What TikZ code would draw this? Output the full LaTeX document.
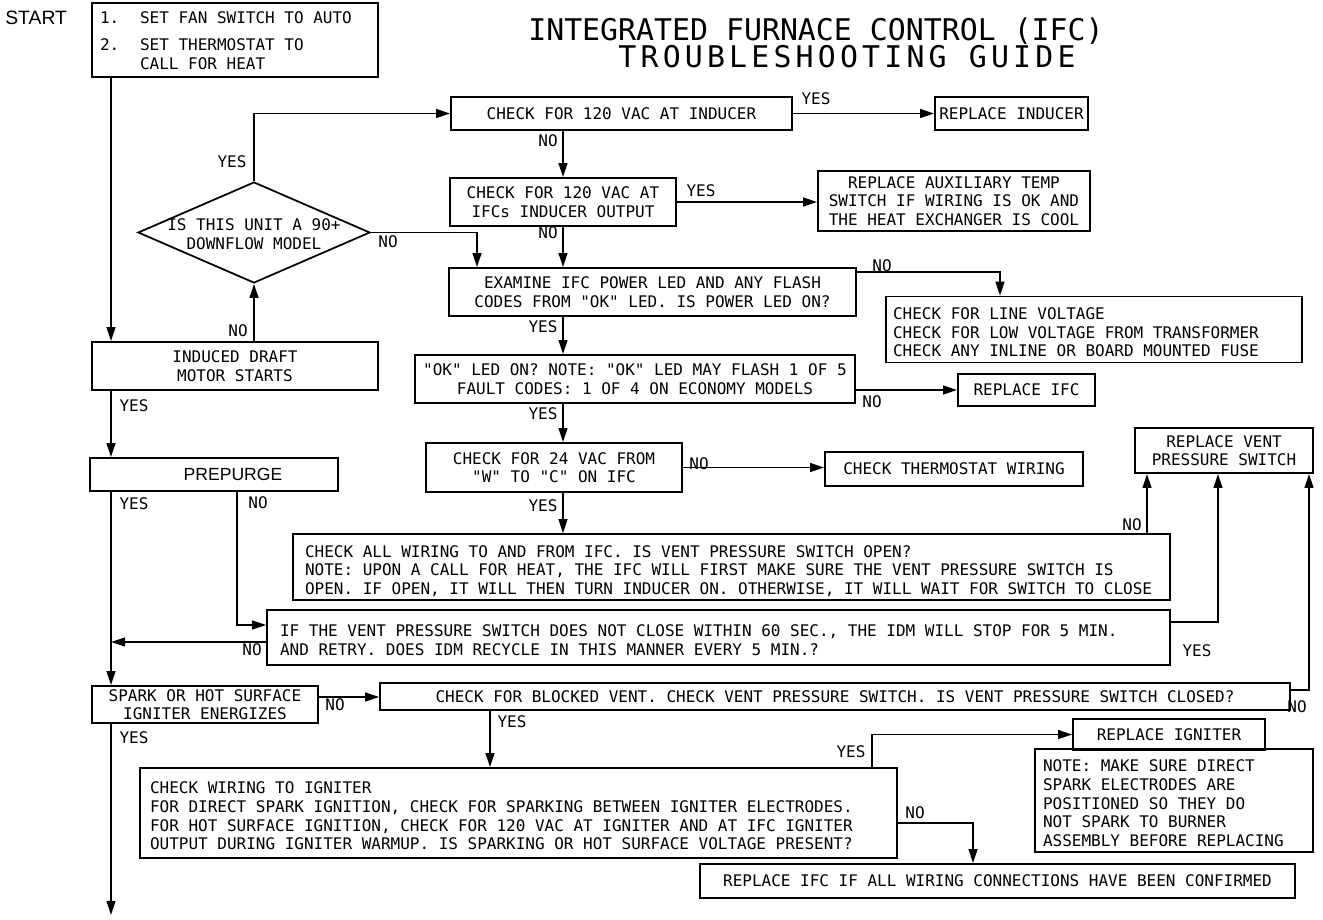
\documentclass[tikz,border=0pt]{standalone}
\usepackage{fontspec}
\setmainfont{Liberation Sans}
\newfontfamily\cadmono{DejaVu Sans Mono}
\usetikzlibrary{arrows.meta,shapes.geometric}
\newcommand{\cadfont}{\cadmono\fontsize{9.1}{10.6}\selectfont}
\newcommand{\qq}[1]{\textquotedbl#1\textquotedbl}
\newcommand{\leftlines}[2]{\raisebox{0pt}[\dimexpr\height+0.2cm\relax][\depth]{\makebox[#1][l]{\begin{tabular}{@{}l@{}}#2\end{tabular}}}}
\tikzset{
  box/.style={draw, line width=1pt, inner sep=0pt, align=center, font=\cadfont},
  lbox/.style={draw, line width=1pt, inner sep=0pt, font=\cadfont},
  lbl/.style={inner sep=0pt, font=\cadfont},
  arr/.style={line width=1pt, -{Triangle[length=8pt,width=5pt]}},
}

\begin{document}
\begin{tikzpicture}[x=0.02cm, y=-0.02cm]
\fill[white] (0,0) rectangle (1323,920);
\coordinate (mainx) at (111,0);
\coordinate (colx) at (563,0);
\coordinate (dropx) at (477,0);
\coordinate (linex) at (1000,0);
\coordinate (purgex) at (237,0);
\coordinate (venta) at (1147,0);
\coordinate (ventb) at (1218,0);
\coordinate (ventc) at (1309,0);
\coordinate (ignx) at (490,0);
\coordinate (yesx) at (872,0);
\coordinate (nox) at (973,0);
\coordinate (finish) at (111,915);

\node[anchor=west, inner sep=0pt, font=\fontsize{11}{13}\selectfont] (startlbl) at (5,18) {START};
\node[inner sep=0pt, font=\cadmono\fontsize{17}{20}\selectfont] (title) at (816,31) {INTEGRATED FURNACE CONTROL (IFC)};
\node[inner sep=0pt, font=\cadmono\fontsize{17}{20}\selectfont\addfontfeature{LetterSpace=14}] (subtitle) at (847,57) {TROUBLESHOOTING GUIDE};

\node[lbox, minimum width=5.72cm, minimum height=1.48cm] (start) at (235,40)
  {\raisebox{0pt}[\dimexpr\height+0.1cm\relax][\depth]{\makebox[5.4cm][l]{\begin{tabular}{@{}p{0.8cm}@{}l@{}}1. & SET FAN SWITCH TO AUTO\\[5pt] 2. & SET THERMOSTAT TO\\ & CALL FOR HEAT\end{tabular}}}};
\node[box, minimum width=6.82cm, minimum height=0.66cm] (inducer) at (621.5,113.5) {CHECK FOR 120 VAC AT INDUCER};
\node[box, minimum width=3.06cm, minimum height=0.66cm] (repinducer) at (1011.5,113.5) {REPLACE INDUCER};
\node[box, minimum width=4.52cm, minimum height=0.96cm] (output) at (563,202) {CHECK FOR 120 VAC AT\\IFCs INDUCER OUTPUT};
\node[box, minimum width=5.44cm, minimum height=1.2cm] (auxtemp) at (954,201) {REPLACE AUXILIARY TEMP\\SWITCH IF WIRING IS OK AND\\THE HEAT EXCHANGER IS COOL};
\node[draw, diamond, line width=1pt, minimum width=4.64cm, minimum height=2.02cm, inner sep=0pt] (unit) at (254,232.5) {};
\node[lbl, align=center] (unittext) at (254,234) {IS THIS UNIT A 90+\\DOWNFLOW MODEL};
\node[box, minimum width=8.14cm, minimum height=0.96cm] (examine) at (652.5,292) {EXAMINE IFC POWER LED AND ANY FLASH\\CODES FROM \qq{OK} LED. IS POWER LED ON?};
\node[lbox, minimum width=8.32cm, minimum height=1.26cm] (linevolt) at (1094,329.5) {\leftlines{8.04cm}{CHECK FOR LINE VOLTAGE\\CHECK FOR LOW VOLTAGE FROM TRANSFORMER\\CHECK ANY INLINE OR BOARD MOUNTED FUSE}};
\node[box, minimum width=8.8cm, minimum height=0.96cm] (okled) at (635,379) {\qq{OK} LED ON? NOTE: \qq{OK} LED MAY FLASH 1 OF 5\\FAULT CODES: 1 OF 4 ON ECONOMY MODELS};
\node[box, minimum width=2.74cm, minimum height=0.64cm] (repifc) at (1026.5,390) {REPLACE IFC};
\node[box, minimum width=5.12cm, minimum height=0.98cm] (vac24) at (554,467.5) {CHECK FOR 24 VAC FROM\\\qq{W} TO \qq{C} ON IFC};
\node[box, minimum width=5.16cm, minimum height=0.68cm] (thermo) at (954,469) {CHECK THERMOSTAT WIRING};
\node[box, minimum width=3.56cm, minimum height=0.9cm] (repvent) at (1224,450.5) {REPLACE VENT\\PRESSURE SWITCH};
\node[lbox, minimum width=17.54cm, minimum height=1.2cm] (wiring) at (731.5,567) {\leftlines{17.06cm}{CHECK ALL WIRING TO AND FROM IFC. IS VENT PRESSURE SWITCH OPEN?\\NOTE: UPON A CALL FOR HEAT, THE IFC WILL FIRST MAKE SURE THE VENT PRESSURE SWITCH IS\\OPEN. IF OPEN, IT WILL THEN TURN INDUCER ON. OTHERWISE, IT WILL WAIT FOR SWITCH TO CLOSE}};
\node[lbox, minimum width=18.06cm, minimum height=1.1cm] (retry) at (718.5,637.5) {\leftlines{17.54cm}{IF THE VENT PRESSURE SWITCH DOES NOT CLOSE WITHIN 60 SEC., THE IDM WILL STOP FOR 5 MIN.\\AND RETRY. DOES IDM RECYCLE IN THIS MANNER EVERY 5 MIN.?}};
\node[box, minimum width=5.72cm, minimum height=0.96cm] (induced) at (235,366) {INDUCED DRAFT\\MOTOR STARTS};
\node[box, minimum width=4.96cm, minimum height=0.66cm, font=\fontsize{10}{12}\selectfont] (prepurge) at (214,474.5) {\hspace{0.76cm}PREPURGE};
\node[box, minimum width=4.52cm, minimum height=0.74cm] (spark) at (205,704.5) {SPARK OR HOT SURFACE\\IGNITER ENERGIZES};
\node[box, minimum width=18.2cm, minimum height=0.54cm] (blocked) at (835,696.5) {CHECK FOR BLOCKED VENT. CHECK VENT PRESSURE SWITCH. IS VENT PRESSURE SWITCH CLOSED?};
\node[lbox, minimum width=15.14cm, minimum height=1.8cm] (igncheck) at (518.5,813) {\leftlines{14.74cm}{CHECK WIRING TO IGNITER\\FOR DIRECT SPARK IGNITION, CHECK FOR SPARKING BETWEEN IGNITER ELECTRODES.\\FOR HOT SURFACE IGNITION, CHECK FOR 120 VAC AT IGNITER AND AT IFC IGNITER\\OUTPUT DURING IGNITER WARMUP. IS SPARKING OR HOT SURFACE VOLTAGE PRESENT?}};
\node[box, minimum width=3.84cm, minimum height=0.62cm] (repign) at (1169,734.5) {REPLACE IGNITER};
\node[lbox, minimum width=5.56cm, minimum height=2.02cm] (note) at (1174,800.5) {\leftlines{5.24cm}{NOTE: MAKE SURE DIRECT\\SPARK ELECTRODES ARE\\POSITIONED SO THEY DO\\NOT SPARK TO BURNER\\ASSEMBLY BEFORE REPLACING}};
\node[box, minimum width=11.9cm, minimum height=0.68cm] (repifc2) at (997.5,881) {REPLACE IFC IF ALL WIRING CONNECTIONS HAVE BEEN CONFIRMED};

\foreach \n/\x/\y/\t in {yesunit/232/162/YES, nounit/388/242/NO, noinduced/238/331/NO, yesinduced/134/406/YES,
  yesinducer/816/99/YES, noinducer/548/141/NO, yesoutput/701/191/YES, nooutput/548/233/NO,
  noexamine/882/266/NO, yesexamine/543/327/YES, nookled/872/402/NO, yesokled/543/414/YES,
  novac/699/464/NO, yesvac/543/506/YES, nowiring/1132/525/NO, yesprepurge/134/504/YES,
  noprepurge/258/503/NO, noretry/252/650/NO, yesretry/1197/651/YES, nospark/335/705/NO,
  noblocked/1297/707/NO, yesblocked/512/722/YES, yesspark/134/738/YES, yesign/851/752/YES, noign/915/813/NO}
{
\node[lbl] (\n) at (\x,\y) {\t};
}

\coordinate (examineno) at ([yshift=-0.1cm]examine.north east);
\coordinate (okledno) at ([yshift=-0.22cm]okled.east);
\coordinate (retryin) at ([yshift=0.25cm]retry.west);
\coordinate (retryno) at ([yshift=-0.09cm]retry.west);
\coordinate (retryyes) at ([yshift=0.31cm]retry.east);
\coordinate (sparkno) at ([yshift=0.15cm]spark.east);
\coordinate (blockedno) at ([yshift=0.13cm]blocked.east);
\coordinate (ignno) at ([yshift=-0.2cm]igncheck.east);

\draw[arr] (start.south -| mainx) -- (induced.north -| mainx);
\draw[arr] (induced.south -| mainx) -- (prepurge.north -| mainx);
\draw[arr] (prepurge.south -| mainx) -- (spark.north -| mainx);
\draw[arr] (spark.south -| mainx) -- (finish);
\draw[arr] (induced.north -| unit.south) -- (unit.south);
\draw[arr] (unit.north) |- (inducer.west);
\draw[arr] (unit.east) -| (examine.north -| dropx);
\draw[arr] (inducer.east) -- (inducer.east -| repinducer.west);
\draw[arr] (inducer.south -| colx) -- (output.north -| colx);
\draw[arr] (output.east) -- (output.east -| auxtemp.west);
\draw[arr] (output.south -| colx) -- (examine.north -| colx);
\draw[arr] (examineno) -| (linevolt.north -| linex);
\draw[arr] (examine.south -| colx) -- (okled.north -| colx);
\draw[arr] (okledno) -- (okledno -| repifc.west);
\draw[arr] (okled.south -| colx) -- (vac24.north -| colx);
\draw[arr] (vac24.east) -- (vac24.east -| thermo.west);
\draw[arr] (vac24.south -| colx) -- (wiring.north -| colx);
\draw[arr] (wiring.north -| venta) -- (repvent.south -| venta);
\draw[arr] (prepurge.south -| purgex) |- (retryin);
\draw[arr] (retryno) -- (retryno -| mainx);
\draw[arr] (retryyes) -| (repvent.south -| ventb);
\draw[arr] (sparkno) -- (sparkno -| blocked.west);
\draw[arr] (blockedno) -| (repvent.south -| ventc);
\draw[arr] (blocked.south -| ignx) -- (igncheck.north -| ignx);
\draw[arr] (igncheck.north -| yesx) |- (repign.west);
\draw[arr] (ignno) -| (repifc2.north -| nox);
\end{tikzpicture}
\end{document}
